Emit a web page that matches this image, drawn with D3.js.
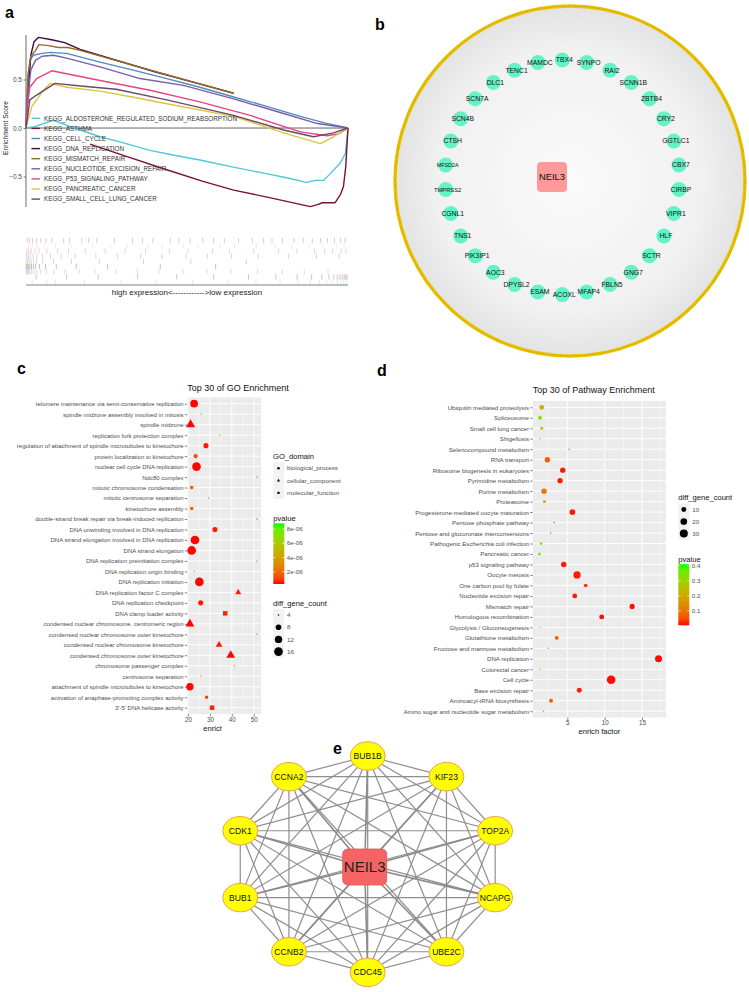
<!DOCTYPE html>
<html>
<head>
<meta charset="utf-8">
<script src="https://cdn.jsdelivr.net/npm/d3@7"></script>
<style>
  body { margin: 0; background: #fff; }
  svg { font-family: "Liberation Sans", Arial, sans-serif; }
</style>
</head>
<body>
<svg id="fig" width="749" height="992"></svg>
<script>
// ---------- panel a: GSEA running enrichment scores ----------
const gseaNames = ["KEGG_ALDOSTERONE_REGULATED_SODIUM_REABSORPTION", "KEGG_ASTHMA", "KEGG_CELL_CYCLE",
  "KEGG_DNA_REPLICATION", "KEGG_MISMATCH_REPAIR", "KEGG_NUCLEOTIDE_EXCISION_REPAIR",
  "KEGG_P53_SIGNALING_PATHWAY", "KEGG_PANCREATIC_CANCER", "KEGG_SMALL_CELL_LUNG_CANCER"]
const gseaColors = ["#4fc8d8", "#7a1232", "#4d8cc4", "#3a0d38", "#9a6a2c", "#7b5ca6", "#e6447c", "#d8c640", "#6a4868"]

// [rank %, ES]
const esAldosterone = [[0,0],[2.3,0.01],[8.5,0.08],[15,0.0],[23,-0.09],[30,-0.15],[38.5,-0.23],[46,-0.28],[54,-0.33],[64,-0.4],[74.6,-0.47],[82,-0.52],[87,-0.56],[90,-0.54],[92.4,-0.54],[94.5,-0.47],[97.6,-0.36],[99.2,-0.26],[100,0]]
const esAsthma = [[19.9,-0.165],[30,-0.28],[43.7,-0.43],[55,-0.55],[64.5,-0.64],[76,-0.72],[88.3,-0.81],[90.5,-0.79],[92,-0.77],[96,-0.77],[97.6,-0.69],[98.6,-0.6],[99.3,-0.4],[100,0]]
const esCellCycle = [[0,0],[0.2,0.29],[1.2,0.7],[2.3,0.75],[5,0.77],[7.5,0.78],[12.6,0.77],[23,0.68],[33,0.6],[43.7,0.51],[54,0.42],[64.5,0.32],[75,0.22],[85.2,0.12],[93,0.05],[100,0]]
const esDnaReplication = [[0,0],[0.8,0.42],[1.5,0.75],[2.5,0.89],[3.9,0.935],[8,0.91],[12,0.88],[16.8,0.81],[40,0.58],[64.5,0.36]]
const esMismatchRepair = [[0,0],[0.6,0.55],[1.5,0.74],[3,0.8],[4,0.86],[7,0.85],[10,0.83],[13,0.83],[16.8,0.8],[64.5,0.356]]
const esNucleotideExcision = [[0,0],[0.5,0.3],[1.5,0.6],[3,0.7],[5,0.74],[8.5,0.75],[12.6,0.72],[23,0.63],[35.4,0.51],[48.9,0.44],[64.5,0.3],[80,0.15],[90,0.05],[100,0]]
const esP53 = [[0,0],[0.5,0.25],[1.2,0.42],[3.3,0.51],[8,0.59],[12.6,0.56],[23,0.49],[38.5,0.39],[54,0.27],[69.6,0.13],[85.2,-0.04],[93.5,-0.08],[97,-0.06],[100,0]]
const esPancreatic = [[0,0],[1.8,0.22],[5.4,0.39],[7.5,0.46],[12.6,0.42],[23,0.38],[33,0.32],[43.7,0.25],[64.5,0.12],[80,-0.05],[91.4,-0.16],[95.5,-0.09],[100,0]]
const esSmallCell = [[0,0],[1.2,0.29],[3.3,0.34],[9,0.46],[17.8,0.43],[28,0.4],[43.7,0.29],[64.5,0.13],[80,-0.02],[89.3,-0.09],[95.5,-0.05],[100,0]]
const esCurves = [esAldosterone, esAsthma, esCellCycle, esDnaReplication, esMismatchRepair,
  esNucleotideExcision, esP53, esPancreatic, esSmallCell]

// gene set hit positions (rank %)
const hitsAldosterone = [1.9,6.4,9.1,18.2,29.6,40.3,51.8,62.7,71.4,78.9,84.5,88.3,91.2,93.4,95.1,96.6,97.8,98.7,99.4]
const hitsAsthma = [3.1,12.6,22.4,34.7,46.8,58.3,69.1,77.6,84.2,88.7,91.9,94.1,95.6,96.7,97.5,98.2,98.8,99.3,99.7]
const hitsCellCycle = [0.1,0.3,0.6,0.9,1.3,1.8,2.5,3.4,4.6,6.3,8.7,12.1,16.5,21.4,27.9,34.6,41.3,48.8,56.2,63.7,71.9,79.5,86.4,93.8]
const hitsDnaReplication = [0.1,0.4,0.8,1.2,1.7,2.3,3,4.2,6.1,9.4,15.6,25.3,41.7,58.9]
const hitsMismatchRepair = [0.1,0.5,1,1.6,2.4,3.3,5.2,8.6,14.1,22.8,36.5,51.2,68.4]
const hitsNucleotideExcision = [0.2,0.7,1.3,2.2,3.4,5.1,7.6,10.9,15.3,21.7,28.4,35.6,42.2,49.7,56.3,63.8,72.1,81.5,90.2,97.3]
const hitsP53 = [0.3,0.9,1.6,2.8,4.1,6.5,9.8,13.2,18.4,24.6,30.8,37.1,44.5,50.3,57.9,63.2,70.7,78.4,84.1,89.6,92.8,95.2,97.9,99.4]
const hitsPancreatic = [0.8,1.9,3.5,5.7,9.2,14,20.7,26.1,31.4,37.8,42.3,48.9,53.4,60.2,64.8,71.5,77.3,82.6,87.9,92.1,96.4,98.8]
const hitsSmallCell = [0.4,1.1,2,3.3,4.6,6.2,8,11.7,13.5,17.3,19.5,22,27.5,33.1,36.2,39.4,44.8,47.5,51,54.9,58.2,61.6,66,70.3,73.8,76.4,79.7,83.2,86.1,88.9,91.5,93.6,95.8,97.7,99.1]
const hitSets = [hitsAldosterone, hitsAsthma, hitsCellCycle, hitsDnaReplication, hitsMismatchRepair,
  hitsNucleotideExcision, hitsP53, hitsPancreatic, hitsSmallCell]
const esTicks = [-0.5, 0, 0.5]

// ---------- panel b: co-expression network ----------
const hubGene = "NEIL3"
const coexpGenes = ["TBX4","SYNPO","RAI2","SCNN1B","ZBTB4","CRY2","GGTLC1","CBX7","CIRBP","VIPR1","HLF","SCTR",
  "GNG7","FBLN5","MFAP4","ACOXL","ESAM","DPYSL2","AOC3","PIK3IP1","TNS1","CGNL1","TMPRSS2","MFSD2A","CTSH",
  "SCN4B","SCN7A","DLC1","TENC1","MAMDC"]

// ---------- panel c: GO enrichment ----------
const goTerms = ["telomere maintenance via semi-conservative replication","spindle midzone assembly involved in mitosis",
  "spindle midzone","replication fork protection complex","regulation of attachment of spindle microtubules to kinetochore",
  "protein localization to kinetochore","nuclear cell cycle DNA replication","Ndc80 complex","mitotic chromosome condensation",
  "mitotic centrosome separation","kinetochore assembly","double-strand break repair via break-induced replication",
  "DNA unwinding involved in DNA replication","DNA strand elongation involved in DNA replication","DNA strand elongation",
  "DNA replication preinitiation complex","DNA replication origin binding","DNA replication initiation",
  "DNA replication factor C complex","DNA replication checkpoint","DNA clamp loader activity",
  "condensed nuclear chromosome, centromeric region","condensed nuclear chromosome outer kinetochore",
  "condensed nuclear chromosome kinetochore","condensed chromosome outer kinetochore","chromosome passenger complex",
  "centrosome separation","attachment of spindle microtubules to kinetochore",
  "activation of anaphase-promoting complex activity","3'-5' DNA helicase activity"]
const goEnrich = [22.8,25.9,21.2,34.5,28.2,23.5,23.9,51.5,21.7,29.5,21.7,51.5,32.3,23.2,21.7,51.5,22.9,25.2,42.9,25.8,
  37.0,20.9,51.5,34.2,39.5,41.2,25.9,20.9,28.5,31.0]
const goCount = [13,4,13,4,7,6,16,4,5,4,5,4,7,16,16,4,4,16,7,7,7,12,4,8,12,4,4,12,5,7]
const goPvalue = [3e-7,6.5e-6,3e-7,3.2e-6,4e-7,1.3e-6,3e-7,1.2e-6,1.6e-6,3.5e-6,1.6e-6,1.3e-6,4e-7,3e-7,3e-7,1.2e-6,
  8.5e-6,3e-7,5e-7,4e-7,5e-7,3e-7,1.3e-6,4e-7,3e-7,2e-6,6e-6,3e-7,9e-7,5e-7]
const goDomains = ["biological_process","cellular_component","molecular_function"]
const goDomain = [0,0,1,1,0,0,0,1,0,0,0,0,0,0,0,1,2,0,1,0,2,1,1,1,1,1,0,0,0,2]
const goXTicks = [20,30,40,50]
const goPTicks = [2e-6,4e-6,6e-6,8e-6]
const goSizeTicks = [4,8,12,16]

// ---------- panel d: pathway enrichment ----------
const pwTerms = ["Ubiquitin mediated proteolysis","Spliceosome","Small cell lung cancer","Shigellosis",
  "Selenocompound metabolism","RNA transport","Ribosome biogenesis in eukaryotes","Pyrimidine metabolism",
  "Purine metabolism","Proteasome","Progesterone-mediated oocyte maturation","Pentose phosphate pathway",
  "Pentose and glucuronate interconversions","Pathogenic Escherichia coli infection","Pancreatic cancer",
  "p53 signaling pathway","Oocyte meiosis","One carbon pool by folate","Nucleotide excision repair","Mismatch repair",
  "Homologous recombination","Glycolysis / Gluconeogenesis","Glutathione metabolism","Fructose and mannose metabolism",
  "DNA replication","Colorectal cancer","Cell cycle","Base excision repair","Aminoacyl-tRNA biosynthesis",
  "Amino sugar and nucleotide sugar metabolism"]
const pwEnrich = [1.58,1.35,1.58,1.4,5.24,2.33,4.39,4.03,1.89,1.93,5.68,3.27,2.78,1.49,1.26,4.52,6.3,7.46,6.0,13.67,
  9.6,1.35,3.58,2.47,17.2,1.35,10.86,6.6,2.82,1.8]
const pwCount = [9,6,4,2,2,12,12,12,12,3,15,2,2,3,3,12,24,5,9,11,10,2,6,2,22,2,36,10,6,2]
const pwPvalue = [0.22,0.33,0.27,0.34,0.05,0.07,0.01,0.01,0.1,0.17,0.01,0.07,0.1,0.3,0.4,0.01,0.01,0.015,0.01,0.005,
  0.005,0.37,0.06,0.12,0.005,0.37,0.005,0.01,0.07,0.2]
const pwXTicks = [5,10,15]
const pwPTicks = [0.1,0.2,0.3,0.4]
const pwSizeTicks = [10,20,30]

// ---------- panel e: PPI network ----------
const ppiGenes = ["BUB1B","KIF23","TOP2A","NCAPG","UBE2C","CDC45","CCNB2","BUB1","CDK1","CCNA2"]

const svg = d3.select("#fig")
const defs = svg.append("defs")
const TXT = "#4d4d4d"

function panelLabel(t, x, y) {
  svg.append("text").attr("x", x).attr("y", y).attr("font-size", 16).attr("font-weight", "bold").text(t)
}

function styleAxis(g, fs) {
  g.attr("font-family", null).attr("font-size", null)
  g.select(".domain").remove()
  g.selectAll(".tick line").attr("stroke", "#333").attr("stroke-width", 0.6)
  g.selectAll(".tick text").attr("fill", TXT).attr("font-size", fs)
}

// ===================== a =====================
panelLabel("a", 5, 18)
const ax = d3.scaleLinear().domain([0, 100]).range([26, 348])
const ay = d3.scaleLinear().domain([-0.814, 0.959]).range([207, 35])
const ga = svg.append("g")

ga.append("line").attr("x1", 26).attr("x2", 26).attr("y1", ay.range()[0]).attr("y2", ay.range()[1])
  .attr("stroke", "#444").attr("stroke-width", 0.8)
ga.append("g").attr("transform", "translate(26,0)")
  .call(d3.axisLeft(ay).tickValues(esTicks).tickFormat(d3.format(".1f")).tickSize(2.5).tickPadding(1.5))
  .call(g => styleAxis(g, 6.5))

ga.append("line").attr("x1", ax(0)).attr("x2", ax(100)).attr("y1", ay(0)).attr("y2", ay(0))
  .attr("stroke", "#222").attr("stroke-width", 0.7)

ga.append("text").attr("transform", `translate(8,${ay(0)}) rotate(-90)`).attr("text-anchor", "middle")
  .attr("font-size", 6.8).attr("fill", "#222").text("Enrichment Score")

const esLine = d3.line().x(d => ax(d[0])).y(d => ay(d[1]))
esCurves.forEach((c, i) => {
  ga.append("path").attr("d", esLine(c)).attr("fill", "none")
    .attr("stroke", gseaColors[i]).attr("stroke-width", 1.4).attr("stroke-linejoin", "round")
})

// legend
gseaNames.forEach((n, i) => {
  const y = 118.3 + i * 10.1
  ga.append("line").attr("x1", 31.5).attr("x2", 40).attr("y1", y).attr("y2", y)
    .attr("stroke", gseaColors[i]).attr("stroke-width", 1.4)
  ga.append("text").attr("x", 44).attr("y", y).attr("dy", "0.35em").attr("font-size", 6.3)
    .attr("fill", "#333").text(n)
})

// rug of hits, last set on top row
const rugTop = 238, rugH = 5.2
hitSets.forEach((h, i) => {
  const row = gseaNames.length - 1 - i
  ga.append("g").selectAll("line").data(h).join("line")
    .attr("x1", d => ax(d)).attr("x2", d => ax(d))
    .attr("y1", rugTop + row * rugH).attr("y2", rugTop + (row + 1) * rugH)
    .attr("stroke", gseaColors[i]).attr("stroke-opacity", 0.35).attr("stroke-width", 0.8)
})
ga.append("line").attr("x1", ax(0)).attr("x2", ax(100)).attr("y1", 285).attr("y2", 285)
  .attr("stroke", "#aaa").attr("stroke-width", 1.3)
ga.append("text").attr("x", (ax(0) + ax(100)) / 2).attr("y", 294.5).attr("text-anchor", "middle")
  .attr("font-size", 8).attr("fill", "#222").text("high expression<------------>low expression")

// ===================== b =====================
panelLabel("b", 375, 30)
const bg = svg.append("g")
const rg = defs.append("radialGradient").attr("id", "bbg")
rg.append("stop").attr("offset", "0%").attr("stop-color", "#fafafa")
rg.append("stop").attr("offset", "75%").attr("stop-color", "#f1f1f1")
rg.append("stop").attr("offset", "100%").attr("stop-color", "#e3e3e3")
const outer = { x: 570, y: 181, r: 175 }
bg.append("circle").attr("cx", outer.x).attr("cy", outer.y).attr("r", outer.r)
  .attr("fill", "url(#bbg)").attr("stroke", "#eac400").attr("stroke-width", 3.4)
bg.append("circle").attr("cx", outer.x).attr("cy", outer.y).attr("r", outer.r)
  .attr("fill", "none").attr("stroke", "#c9a200").attr("stroke-width", 1.6).attr("stroke-dasharray", "0.8,1.4")

const ring = { x: 562.3, y: 177.3, r: 117.3 }
const ang = d3.scaleLinear().domain([0, coexpGenes.length]).range([-Math.PI / 2, 1.5 * Math.PI])
const smallLabel = { MFSD2A: 5.4, TMPRSS2: 5.8 }
coexpGenes.forEach((g, i) => {
  const a = ang(i)
  const x = ring.x + ring.r * Math.cos(a), y = ring.y + ring.r * Math.sin(a)
  bg.append("circle").attr("cx", x).attr("cy", y).attr("r", 7.5).attr("fill", "#63f3c6")
  bg.append("text").attr("x", x + 2).attr("y", y).attr("dy", "0.35em").attr("text-anchor", "middle")
    .attr("font-size", smallLabel[g] || 6.8).attr("fill", "#111").text(g)
})
bg.append("rect").attr("x", 537).attr("y", 162).attr("width", 30).attr("height", 30).attr("rx", 4)
  .attr("fill", "#ff9a9a")
bg.append("text").attr("x", 552).attr("y", 177).attr("dy", "0.35em").attr("text-anchor", "middle")
  .attr("font-size", 9.4).attr("fill", "#111").text(hubGene)

// ---------- shared bits for dot plots ----------
const pvalColor = d3.interpolateLab("#ff0000", "#00ff00")
const sizeRadius = (min, max) => c => {
  const s = d3.scaleSqrt().domain([0, max - min]).range([0.725, 4.35])
  return s(Math.max(0, c - min))
}
const symTypes = [d3.symbolCircle, d3.symbolTriangle, d3.symbolSquare]
const symArea = [1, 0.8, 1.0]

function dotPanel(o) {
  const g = svg.append("g")
  g.append("rect").attr("x", o.x0).attr("y", o.y0).attr("width", o.x1 - o.x0).attr("height", o.y1 - o.y0)
    .attr("fill", "#ebebeb")
  o.minor.forEach(v => g.append("line").attr("x1", o.xs(v)).attr("x2", o.xs(v)).attr("y1", o.y0).attr("y2", o.y1)
    .attr("stroke", "#fff").attr("stroke-width", 0.45))
  o.xTicks.forEach(v => g.append("line").attr("x1", o.xs(v)).attr("x2", o.xs(v)).attr("y1", o.y0).attr("y2", o.y1)
    .attr("stroke", "#fff").attr("stroke-width", 0.9))
  o.terms.forEach(t => g.append("line").attr("x1", o.x0).attr("x2", o.x1).attr("y1", o.ys(t)).attr("y2", o.ys(t))
    .attr("stroke", "#fff").attr("stroke-width", 0.9))

  g.append("g").attr("transform", `translate(${o.x0},0)`)
    .call(d3.axisLeft(o.ys).tickSize(2.5).tickPadding(1.2)).call(a => styleAxis(a, o.fs))
  g.append("g").attr("transform", `translate(0,${o.y1})`)
    .call(d3.axisBottom(o.xs).tickValues(o.xTicks).tickSize(2.5).tickPadding(1)).call(a => styleAxis(a, 6.3))

  g.append("text").attr("x", o.x0).attr("y", o.titleY).attr("font-size", 9).attr("fill", "#111").text(o.title)

  const clipId = "clip" + o.x0.toFixed(0)
  defs.append("clipPath").attr("id", clipId).append("rect")
    .attr("x", 0).attr("y", o.y1).attr("width", o.xTitleClip).attr("height", 30)
  g.append("text").attr("x", (o.x0 + o.x1) / 2).attr("y", o.y1 + 16.5).attr("text-anchor", "middle")
    .attr("clip-path", `url(#${clipId})`).attr("font-size", 7.6).attr("fill", "#111").text("enrich factor")

  g.append("g").selectAll("path").data(o.terms).join("path")
    .attr("transform", (t, i) => `translate(${o.xs(o.enrich[i])},${o.ys(t)})`)
    .attr("d", (t, i) => {
      const r = o.rad(o.count[i]), k = o.shape ? o.shape[i] : 0
      return d3.symbol(symTypes[k], Math.PI * r * r * symArea[k])()
    })
    .attr("fill", (t, i) => pvalColor(o.pScale(o.pval[i])))
  return g
}

function colorbar(g, x, yTop, yBot, pScale, ticks, fmt, title) {
  const id = "cb" + x.toFixed(0)
  const lg = defs.append("linearGradient").attr("id", id).attr("x1", 0).attr("x2", 0).attr("y1", 1).attr("y2", 0)
  d3.range(0, 1.0001, 0.1).forEach(t => lg.append("stop").attr("offset", t).attr("stop-color", pvalColor(t)))
  g.append("text").attr("x", x).attr("y", yTop - 2.5).attr("font-size", 7.6).attr("fill", "#111").text(title)
  g.append("rect").attr("x", x).attr("y", yTop).attr("width", 11).attr("height", yBot - yTop).attr("fill", `url(#${id})`)
  const ys = d3.scaleLinear().domain(pScale.domain()).range([yBot, yTop])
  ticks.forEach(v => {
    g.append("line").attr("x1", x).attr("x2", x + 2.2).attr("y1", ys(v)).attr("y2", ys(v)).attr("stroke", "#fff").attr("stroke-width", 0.6)
    g.append("line").attr("x1", x + 8.8).attr("x2", x + 11).attr("y1", ys(v)).attr("y2", ys(v)).attr("stroke", "#fff").attr("stroke-width", 0.6)
    g.append("text").attr("x", x + 13.5).attr("y", ys(v)).attr("dy", "0.35em").attr("font-size", 6.2).attr("fill", TXT).text(fmt(v))
  })
}

function sizeLegend(g, x, yTitle, y0, step, ticks, rad, title) {
  g.append("text").attr("x", x).attr("y", yTitle).attr("font-size", 7.6).attr("fill", "#111").text(title)
  ticks.forEach((v, i) => {
    const y = y0 + i * step
    g.append("rect").attr("x", x).attr("y", y - step / 2).attr("width", 11).attr("height", step).attr("fill", "#f2f2f2")
    g.append("circle").attr("cx", x + 5.5).attr("cy", y).attr("r", rad(v)).attr("fill", "#000")
    g.append("text").attr("x", x + 14).attr("y", y).attr("dy", "0.35em").attr("font-size", 6.2).attr("fill", TXT).text(v)
  })
}

const sciFmt = v => v.toExponential(0).replace(/e([+-])(\d)$/, "e$10$2")

// ===================== c =====================
panelLabel("c", 17, 374)
const cXs = d3.scaleLinear().domain([19.7, 53.3]).range([187.3, 261])
const cYs = d3.scalePoint().domain(goTerms).range([403.7, 707.7])
const cP = d3.scaleLinear().domain([2.8e-7, 8.8e-6]).range([0, 1])
const cRad = sizeRadius(4, 16)
const gc = dotPanel({
  x0: 187.3, x1: 261, y0: 397.4, y1: 714, xs: cXs, ys: cYs, terms: goTerms, xTicks: goXTicks,
  minor: [25, 35, 45], fs: 6, title: "Top 30 of GO Enrichment", titleY: 391, xTitleClip: 222,
  enrich: goEnrich, count: goCount, pval: goPvalue, pScale: cP, rad: cRad, shape: goDomain
})
// GO_domain legend
gc.append("text").attr("x", 273).attr("y", 459).attr("font-size", 7.6).attr("fill", "#111").text("GO_domain")
goDomains.forEach((d, i) => {
  const y = 468.3 + i * 12.3
  gc.append("rect").attr("x", 273).attr("y", y - 6).attr("width", 11).attr("height", 12).attr("fill", "#f2f2f2")
  gc.append("path").attr("transform", `translate(278.5,${y})`)
    .attr("d", d3.symbol(symTypes[i], Math.PI * 1.25 * 1.25 * symArea[i])()).attr("fill", "#000")
  gc.append("text").attr("x", 287).attr("y", y).attr("dy", "0.35em").attr("font-size", 6.2).attr("fill", TXT).text(d)
})
colorbar(gc, 273.3, 523.3, 584, cP, goPTicks, sciFmt, "pvalue")
sizeLegend(gc, 273, 606, 615, 12.2, goSizeTicks, cRad, "diff_gene_count")

// ===================== d =====================
panelLabel("d", 377, 376)
const dXs = d3.scaleLinear().domain([0.37, 18.2]).range([532.7, 666])
const dYs = d3.scalePoint().domain(pwTerms).range([407.3, 711.2])
const dP = d3.scaleLinear().domain([0.003, 0.41]).range([0, 1])
const dRad = sizeRadius(2, 36)
const gd = dotPanel({
  x0: 532.7, x1: 666, y0: 401, y1: 717.5, xs: dXs, ys: dYs, terms: pwTerms, xTicks: pwXTicks,
  minor: [2.5, 7.5, 12.5, 17.5], fs: 6.1, title: "Top 30 of Pathway Enrichment", titleY: 393, xTitleClip: 749,
  enrich: pwEnrich, count: pwCount, pval: pwPvalue, pScale: dP, rad: dRad
})
sizeLegend(gd, 678.3, 500, 509.5, 12, pwSizeTicks, dRad, "diff_gene_count")
colorbar(gd, 678.3, 564.2, 625.3, dP, pwPTicks, d3.format(".1f"), "pvalue")

// ===================== e =====================
panelLabel("e", 333, 754)
const ge = svg.append("g")
const ell = { x: 367.7, y: 864.2, rx: 134, ry: 108.2 }
const eAng = d3.scaleLinear().domain([0, ppiGenes.length]).range([-Math.PI / 2, 1.5 * Math.PI])
const hub = { x: 364.7, y: 867 }
const nodes = ppiGenes.map((g, i) => ({
  id: g, x: ell.x + ell.rx * Math.cos(eAng(i)), y: ell.y + ell.ry * Math.sin(eAng(i))
}))
const links = []
nodes.forEach((a, i) => nodes.slice(i + 1).forEach(b => links.push([a, b])))
ge.append("g").selectAll("line").data(links).join("line")
  .attr("x1", d => d[0].x).attr("y1", d => d[0].y).attr("x2", d => d[1].x).attr("y2", d => d[1].y)
  .attr("stroke", "#8e8e8e").attr("stroke-width", 1.2)
ge.append("g").selectAll("line").data(nodes).join("line")
  .attr("x1", d => d.x).attr("y1", d => d.y).attr("x2", hub.x).attr("y2", hub.y)
  .attr("stroke", "#8a8a8a").attr("stroke-width", 1.6)
ge.append("g").selectAll("ellipse").data(nodes).join("ellipse")
  .attr("cx", d => d.x).attr("cy", d => d.y).attr("rx", 17.5).attr("ry", 14.2)
  .attr("fill", "#ffff00").attr("stroke", "#f0a050").attr("stroke-width", 1)
ge.append("g").selectAll("text").data(nodes).join("text")
  .attr("x", d => d.x).attr("y", d => d.y).attr("dy", "0.36em").attr("text-anchor", "middle")
  .attr("font-size", 8.6).attr("fill", "#111").text(d => d.id)
ge.append("rect").attr("x", hub.x - 22).attr("y", hub.y - 18).attr("width", 44).attr("height", 36).attr("rx", 5)
  .attr("fill", "#f46464").attr("stroke", "#e25555").attr("stroke-width", 0.8)
ge.append("text").attr("x", hub.x).attr("y", hub.y).attr("dy", "0.36em").attr("text-anchor", "middle")
  .attr("font-size", 15).attr("fill", "#222").text(hubGene)
</script>
</body>
</html>
